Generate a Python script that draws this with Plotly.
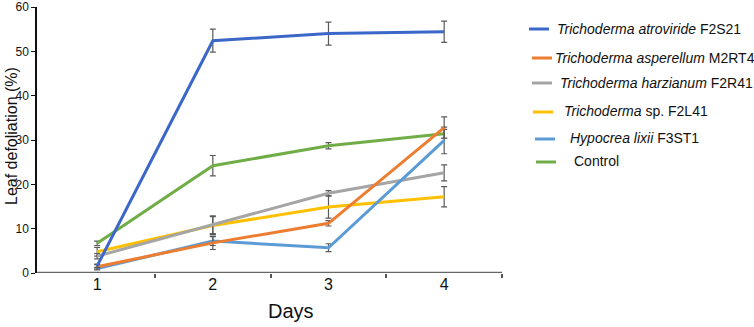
import plotly.graph_objects as go

days = [1, 2, 3, 4]
tick_labels = ["1", "2", "3", "4"]

series_italic = ["Trichoderma atroviride", "Trichoderma asperellum", "Trichoderma harzianum",
                 "Trichoderma", "Hypocrea lixii", ""]
series_suffix = [" F2S21", " M2RT4", " F2R41", " sp. F2L41", " F3ST1", "Control"]
colors = ["#3B67C9", "#ED7D31", "#A5A5A5", "#FFC000", "#5B9BD5", "#70AD47"]

atroviride = [1.6, 52.4, 54.0, 54.4]
atroviride_err = [0.4, 2.6, 2.6, 2.4]
asperellum = [1.4, 6.8, 11.2, 32.8]
asperellum_err = [0.5, 1.5, 0.6, 2.4]
harzianum = [3.8, 10.9, 18.0, 22.6]
harzianum_err = [0.6, 2.0, 0.6, 1.8]
sp_f2l41 = [4.8, 10.7, 14.9, 17.2]
sp_f2l41_err = [1.0, 2.0, 2.5, 2.3]
hypocrea = [1.0, 7.2, 5.7, 29.9]
hypocrea_err = [0.3, 1.0, 0.9, 3.0]
control = [6.7, 24.2, 28.7, 31.4]
control_err = [0.5, 2.3, 0.7, 1.0]

values = [atroviride, asperellum, harzianum, sp_f2l41, hypocrea, control]
errors = [atroviride_err, asperellum_err, harzianum_err, sp_f2l41_err, hypocrea_err, control_err]

W, H = 754, 327
ML, MR, MT, MB = 37, 252, 7, 54
PW = W - ML - MR
PH = H - MT - MB

def px_x(p):
    return (p - ML) / PW

def px_y(p):
    return 1 - (p - MT) / PH

fig = go.Figure()
draw_order = [5, 3, 2, 4, 1, 0]
for i in draw_order:
    fig.add_trace(go.Scatter(
        x=days, y=values[i], mode="lines",
        line=dict(color=colors[i], width=3),
        error_y=dict(type="data", array=errors[i], visible=True,
                     color="#5a5a5a", thickness=1.2, width=3),
        showlegend=False,
    ))

# manual legend
leg_y = [29, 58, 83, 112, 139, 162]
leg_text_y = [29, 58, 83, 111, 138, 161]
leg_line_x0 = [529, 532, 532, 533, 535, 536]
leg_text_x = [555, 553, 558, 562, 568, 572]
shapes = []
annotations = []
for i in range(6):
    y = px_y(leg_y[i])
    shapes.append(dict(type="line", xref="paper", yref="paper",
                       x0=px_x(leg_line_x0[i]), x1=px_x(leg_line_x0[i] + 20), y0=y, y1=y,
                       line=dict(color=colors[i], width=3)))
    txt = (f"<i>{series_italic[i]}</i>" if series_italic[i] else "") + series_suffix[i]
    annotations.append(dict(xref="paper", yref="paper", x=px_x(leg_text_x[i]), y=px_y(leg_text_y[i]),
                            xanchor="left", yanchor="middle", showarrow=False, text=txt,
                            font=dict(family="Liberation Sans, Arial", size=14, color="#111")))

annotations.append(dict(xref="paper", yref="paper", x=px_x(11), y=px_y(136),
                        text="Leaf defoliation (%)", textangle=-90, showarrow=False,
                        xanchor="center", yanchor="middle",
                        font=dict(family="Liberation Sans, Arial", size=16, color="#111")))
annotations.append(dict(xref="paper", yref="paper", x=px_x(291), y=px_y(311),
                        text="Days", showarrow=False, xanchor="center", yanchor="middle",
                        font=dict(family="Liberation Sans, Arial", size=20, color="#111")))

fig.update_layout(
    width=W, height=H,
    margin=dict(l=ML, r=MR, t=MT, b=MB),
    plot_bgcolor="white", paper_bgcolor="white",
    showlegend=False,
    shapes=shapes, annotations=annotations,
    xaxis=dict(range=[0.48, 4.5], tickvals=days, ticktext=tick_labels, ticks="",
               automargin=False,
               showgrid=False, zeroline=False, showline=False,
               tickfont=dict(family="Liberation Sans, Arial", size=16, color="#111"),
               minor=dict(tickvals=[1.5, 2.5, 3.5, 4.5], ticks="outside", ticklen=4,
                          tickcolor="#555", tickwidth=1.5)),
    yaxis=dict(range=[0, 60], tickvals=[0, 10, 20, 30, 40, 50, 60], ticks="outside", ticklen=4,
               automargin=False,
               tickcolor="#111", showgrid=False, zeroline=False, showline=True,
               linecolor="#111", linewidth=1.5,
               tickfont=dict(family="Liberation Sans, Arial", size=12, color="#111")),
)
# x axis line drawn at y=0 (gray)
fig.add_shape(type="line", xref="paper", yref="y", x0=0, x1=1, y0=0, y1=0,
              line=dict(color="#666", width=2.5))

fig.write_html("out.html", config={"displayModeBar": False},
               post_script="document.body.style.margin='0';")
